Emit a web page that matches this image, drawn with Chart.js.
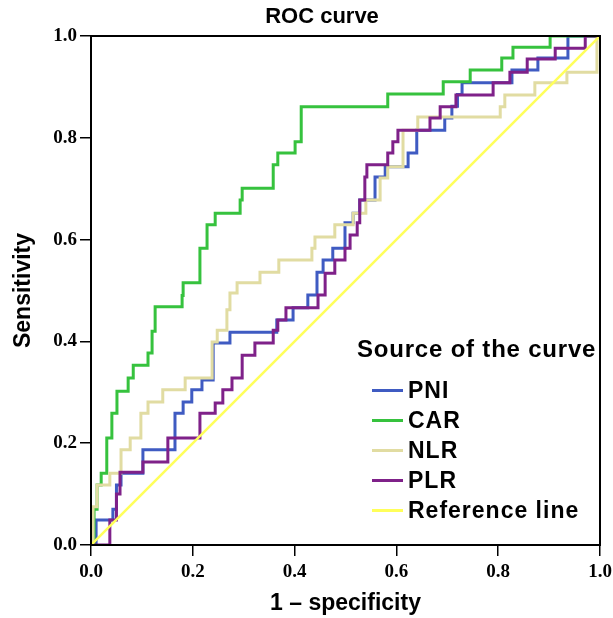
<!DOCTYPE html>
<html>
<head>
<meta charset="utf-8">
<script src="https://cdn.jsdelivr.net/npm/chart.js@4.4.1/dist/chart.umd.min.js"></script>
<style>
  body { margin: 0; background: #fff; }
  #wrap { position: relative; width: 613px; height: 618px; }
  #title {
    position: absolute; left: 222px; top: 3px; width: 200px; text-align: center;
    font: bold 22px "Liberation Sans", Arial, sans-serif; line-height: 25px; color: #000;
  }
  #legend {
    position: absolute; left: 357px; top: 334px;
    font-family: "Liberation Sans", Arial, sans-serif; font-weight: bold; color: #000;
  }
  #legend .head { font-size: 24px; letter-spacing: 0.8px; line-height: 30px; height: 30px; margin-bottom: 11px; }
  #legend .row { display: flex; align-items: center; height: 30px; padding-left: 15px; font-size: 23px; letter-spacing: 1px; }
  #legend .swatch { width: 31px; height: 3px; margin-right: 5px; }
</style>
</head>
<body>
<div id="wrap">
  <canvas id="roc" width="613" height="618"></canvas>
  <div id="title">ROC curve</div>
  <div id="legend"><div class="head">Source of the curve</div></div>
</div>
<script>
// tick labels
const xTickLabels = ['0.0', '0.2', '0.4', '0.6', '0.8', '1.0'];
const yTickLabels = ['0.0', '0.2', '0.4', '0.6', '0.8', '1.0'];

// curve names, in legend order
const curveLabels = ['PNI', 'CAR', 'NLR', 'PLR', 'Reference line'];
const curveColors = ['#3f5bc2', '#36c23e', '#e1dca2', '#7f2189', '#ffff5a'];

// ROC step corners (1 - specificity, sensitivity)
const pniX = [0, 0.01, 0.01, 0.043, 0.043, 0.05, 0.05, 0.059, 0.059, 0.102, 0.102, 0.165, 0.165, 0.181, 0.181, 0.198, 0.198, 0.218, 0.218, 0.24, 0.24, 0.273, 0.273, 0.365, 0.365, 0.397, 0.397, 0.426, 0.426, 0.444, 0.444, 0.456, 0.456, 0.475, 0.475, 0.499, 0.499, 0.515, 0.515, 0.528, 0.528, 0.558, 0.558, 0.578, 0.578, 0.623, 0.623, 0.64, 0.64, 0.695, 0.695, 0.709, 0.709, 0.72, 0.72, 0.729, 0.729, 0.827, 0.827, 0.878, 0.878, 0.937, 0.937, 1];
const pniY = [0, 0, 0.049, 0.049, 0.07, 0.07, 0.118, 0.118, 0.141, 0.141, 0.187, 0.187, 0.259, 0.259, 0.281, 0.281, 0.305, 0.305, 0.324, 0.324, 0.397, 0.397, 0.418, 0.418, 0.442, 0.442, 0.466, 0.466, 0.491, 0.491, 0.536, 0.536, 0.56, 0.56, 0.583, 0.583, 0.633, 0.633, 0.652, 0.652, 0.678, 0.678, 0.723, 0.723, 0.743, 0.743, 0.77, 0.77, 0.815, 0.815, 0.839, 0.839, 0.862, 0.862, 0.885, 0.885, 0.908, 0.908, 0.933, 0.933, 0.957, 0.957, 1, 1];

const carX = [0, 0.006, 0.006, 0.012, 0.012, 0.02, 0.02, 0.031, 0.031, 0.041, 0.041, 0.051, 0.051, 0.073, 0.073, 0.083, 0.083, 0.112, 0.112, 0.12, 0.12, 0.126, 0.126, 0.179, 0.179, 0.181, 0.181, 0.214, 0.214, 0.228, 0.228, 0.244, 0.244, 0.293, 0.293, 0.297, 0.297, 0.358, 0.358, 0.367, 0.367, 0.401, 0.401, 0.413, 0.413, 0.583, 0.583, 0.692, 0.692, 0.745, 0.745, 0.807, 0.807, 0.829, 0.829, 0.902, 0.902, 1];
const carY = [0, 0, 0.07, 0.07, 0.118, 0.118, 0.141, 0.141, 0.21, 0.21, 0.259, 0.259, 0.302, 0.302, 0.328, 0.328, 0.353, 0.353, 0.377, 0.377, 0.42, 0.42, 0.468, 0.468, 0.49, 0.49, 0.515, 0.515, 0.583, 0.583, 0.629, 0.629, 0.652, 0.652, 0.678, 0.678, 0.701, 0.701, 0.747, 0.747, 0.77, 0.77, 0.792, 0.792, 0.861, 0.861, 0.886, 0.886, 0.91, 0.91, 0.933, 0.933, 0.957, 0.957, 0.978, 0.978, 1, 1];

const nlrX = [0, 0.004, 0.004, 0.012, 0.012, 0.037, 0.037, 0.059, 0.059, 0.077, 0.077, 0.098, 0.098, 0.112, 0.112, 0.141, 0.141, 0.185, 0.185, 0.238, 0.238, 0.248, 0.248, 0.267, 0.267, 0.273, 0.273, 0.287, 0.287, 0.332, 0.332, 0.369, 0.369, 0.434, 0.434, 0.44, 0.44, 0.479, 0.479, 0.515, 0.515, 0.54, 0.54, 0.568, 0.568, 0.583, 0.583, 0.613, 0.613, 0.642, 0.642, 0.804, 0.804, 0.813, 0.813, 0.872, 0.872, 0.935, 0.935, 0.994, 0.994, 1];
const nlrY = [0, 0, 0.075, 0.075, 0.118, 0.118, 0.141, 0.141, 0.187, 0.187, 0.21, 0.21, 0.259, 0.259, 0.281, 0.281, 0.305, 0.305, 0.328, 0.328, 0.399, 0.399, 0.422, 0.422, 0.462, 0.462, 0.495, 0.495, 0.515, 0.515, 0.536, 0.536, 0.56, 0.56, 0.583, 0.583, 0.605, 0.605, 0.629, 0.629, 0.652, 0.652, 0.678, 0.678, 0.721, 0.721, 0.743, 0.743, 0.815, 0.815, 0.841, 0.841, 0.861, 0.861, 0.884, 0.884, 0.908, 0.908, 0.929, 0.929, 1, 1];

const plrX = [0, 0.037, 0.037, 0.05, 0.05, 0.057, 0.057, 0.102, 0.102, 0.151, 0.151, 0.214, 0.214, 0.244, 0.244, 0.259, 0.259, 0.277, 0.277, 0.297, 0.297, 0.322, 0.322, 0.358, 0.358, 0.367, 0.367, 0.383, 0.383, 0.446, 0.446, 0.46, 0.46, 0.479, 0.479, 0.499, 0.499, 0.509, 0.509, 0.523, 0.523, 0.528, 0.528, 0.538, 0.538, 0.542, 0.542, 0.583, 0.583, 0.593, 0.593, 0.603, 0.603, 0.666, 0.666, 0.686, 0.686, 0.717, 0.717, 0.79, 0.79, 0.823, 0.823, 0.857, 0.857, 0.912, 0.912, 0.971, 0.971, 1];
const plrY = [0, 0, 0.049, 0.049, 0.1, 0.1, 0.143, 0.143, 0.163, 0.163, 0.21, 0.21, 0.259, 0.259, 0.279, 0.279, 0.305, 0.305, 0.328, 0.328, 0.373, 0.373, 0.397, 0.397, 0.422, 0.422, 0.442, 0.442, 0.466, 0.466, 0.491, 0.491, 0.534, 0.534, 0.56, 0.56, 0.583, 0.583, 0.609, 0.609, 0.633, 0.633, 0.678, 0.678, 0.723, 0.723, 0.747, 0.747, 0.77, 0.77, 0.792, 0.792, 0.815, 0.815, 0.839, 0.839, 0.861, 0.861, 0.884, 0.884, 0.908, 0.908, 0.929, 0.929, 0.955, 0.955, 0.976, 0.976, 1, 1];

const refX = [0, 1];
const refY = [0, 1];

const curveXs = [pniX, carX, nlrX, plrX, refX];
const curveYs = [pniY, carY, nlrY, plrY, refY];

const axisFont = { family: '"Liberation Sans", Arial, sans-serif', size: 23, weight: 'bold' };
const tickFont = { family: '"Liberation Serif", "Times New Roman", serif', size: 19, weight: 'bold' };

// black box round the plot area
const framePlugin = {
    id: 'frame',
    afterDraw(chart) {
        const { ctx, chartArea: a } = chart;
        ctx.save();
        ctx.strokeStyle = '#000';
        ctx.lineWidth = 2;
        ctx.strokeRect(a.left, a.top, a.right - a.left, a.bottom - a.top);
        ctx.restore();
    }
};

const datasets = curveLabels.map((label, i) => ({
    label: label,
    data: curveXs[i].map((x, j) => ({ x: x, y: curveYs[i][j] })),
    borderColor: curveColors[i],
    borderWidth: i === 4 ? 2.5 : 3,
    pointRadius: 0,
    tension: 0,
    fill: false,
    order: curveLabels.length - 1 - i  // later curves drawn on top
}));

new Chart(document.getElementById('roc'), {
    type: 'line',
    data: { datasets: datasets },
    plugins: [framePlugin],
    options: {
        responsive: false,
        animation: false,
        layout: { padding: { top: 36, right: 13, bottom: 0, left: 0 } },
        plugins: {
            legend: { display: false },
            tooltip: { enabled: false }
        },
        scales: {
            x: {
                type: 'linear',
                min: 0,
                max: 1,
                afterFit: scale => {
                    scale.height = 73;
                    // let the last label run past the plot edge like the original
                    scale.paddingLeft = 0;
                    scale.paddingRight = 0;
                },
                ticks: {
                    stepSize: 0.2,
                    autoSkip: false,
                    maxRotation: 0,
                    padding: 5,
                    color: '#000',
                    font: tickFont,
                    callback: (value, index) => xTickLabels[index]
                },
                grid: { drawOnChartArea: false, drawTicks: true, tickLength: 11, color: '#000', lineWidth: 1.5 },
                border: { color: '#000', width: 2 },
                title: { display: true, text: '1 – specificity', color: '#000', font: axisFont, padding: { top: 0, bottom: 1 } }
            },
            y: {
                min: 0,
                max: 1,
                afterFit: scale => { scale.width = 91; },
                ticks: {
                    stepSize: 0.2,
                    padding: 3,
                    color: '#000',
                    font: tickFont,
                    callback: (value, index) => yTickLabels[index]
                },
                grid: { drawOnChartArea: false, drawTicks: true, tickLength: 11, color: '#000', lineWidth: 1.5 },
                border: { color: '#000', width: 2 },
                title: { display: true, text: 'Sensitivity', color: '#000', font: axisFont, padding: { top: 10, bottom: 0 } }
            }
        }
    }
});

// legend inside the plot, built from the same labels and colours
const legendBox = document.getElementById('legend');
curveLabels.forEach((label, i) => {
    const row = document.createElement('div');
    row.className = 'row';
    row.innerHTML = `<span class="swatch" style="background:${curveColors[i]}"></span><span>${label}</span>`;
    legendBox.appendChild(row);
});
</script>
</body>
</html>
